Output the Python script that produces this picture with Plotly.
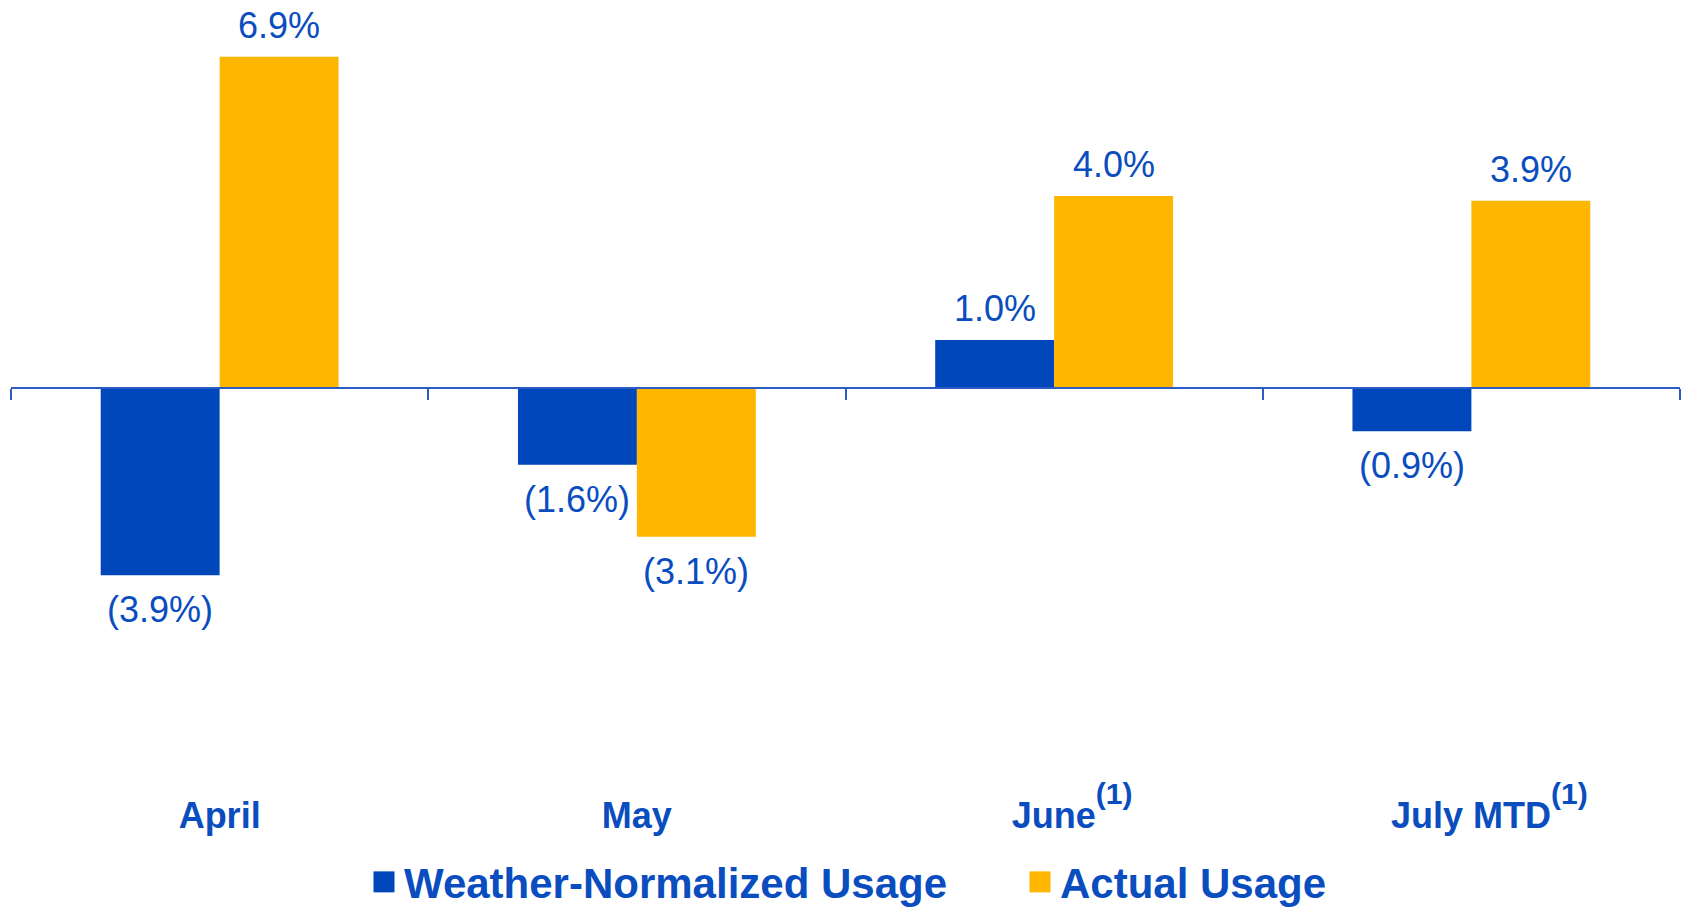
import plotly.graph_objects as go

# ---- data ----
categories = ["April", "May", "June", "July MTD"]
footnotes = ["", "", "(1)", "(1)"]
weather_normalized = [-3.9, -1.6, 1.0, -0.9]
actual = [6.9, -3.1, 4.0, 3.9]
series_names = ["Weather-Normalized Usage", "Actual Usage"]

# ---- style ----
BLUE = "#0047BB"
GOLD = "#FFB600"
TEXT = "#0A4DBF"
AXIS = "#2A5CC4"
FONT = "Liberation Sans, Arial, sans-serif"

W, H = 1685, 908
PLOT_TOP, PLOT_BOTTOM = 10, 730
y_min, y_max = -7.125, 7.875
bargap = 0.43

fig = go.Figure()
series = [weather_normalized, actual]
colors = [BLUE, GOLD]
for name, vals, col in zip(series_names, series, colors):
    fig.add_trace(go.Bar(x=categories, y=vals, name=name,
                         marker=dict(color=col, line=dict(width=0)),
                         hoverinfo="skip"))


def fmt(v):
    return f"{v:.1f}%" if v >= 0 else f"({abs(v):.1f}%)"


def tick_label(name, note):
    if not note:
        return name
    # an em space on the left balances the superscript so the word stays centred
    return ("\u2003" + name +
            "<sup><span style='font-size:30px;baseline-shift:9px'>" + note + "</span></sup>")


bw = (1 - bargap) / len(series)
annotations = []
for i, vals in enumerate(series):
    for j, v in enumerate(vals):
        annotations.append(dict(
            x=j + (i - (len(series) - 1) / 2) * bw, y=v, xref="x", yref="y",
            text=fmt(v), showarrow=False,
            yanchor="bottom" if v >= 0 else "top",
            yshift=9 if v >= 0 else -12,
            font=dict(size=36, color=TEXT, family=FONT)))

fig.update_layout(
    width=W, height=H,
    margin=dict(l=11, r=5, t=PLOT_TOP, b=H - PLOT_BOTTOM, pad=0, autoexpand=False),
    barmode="group", bargap=bargap, bargroupgap=0,
    plot_bgcolor="white", paper_bgcolor="white",
    showlegend=True,
    legend=dict(orientation="h", x=0.2115, xanchor="left",
                yref="container", y=0.066, yanchor="top",
                font=dict(size=42, color=TEXT, family=FONT, weight="bold"),
                entrywidth=611, entrywidthmode="pixels",
                itemclick=False, itemdoubleclick=False),
    annotations=annotations,
)
fig.update_xaxes(
    type="category", range=[-0.5, 3.5], anchor="free",
    position=(0 - y_min) / (y_max - y_min),
    tickmode="array", tickvals=categories,
    ticktext=[tick_label(c, n) for c, n in zip(categories, footnotes)],
    showline=True, linecolor=AXIS, linewidth=2,
    ticks="outside", tickson="boundaries", ticklen=11, tickwidth=2, tickcolor=AXIS,
    tickfont=dict(size=36, color=TEXT, family=FONT, weight="bold"),
    ticklabelstandoff=396,
    showgrid=False, zeroline=False, automargin=False, fixedrange=True,
)
fig.update_yaxes(range=[y_min, y_max], visible=False, showgrid=False,
                 zeroline=False, automargin=False, fixedrange=True)

post = """
document.body.style.margin = '0';
document.body.style.overflow = 'hidden';
document.querySelectorAll('.legendpoints path').forEach(function (p) {
  var t = p.getAttribute('transform') || '';
  p.setAttribute('transform', t + ' scale(1.75)');
});
"""
fig.write_html("out.html", config={"displayModeBar": False}, post_script=post)
